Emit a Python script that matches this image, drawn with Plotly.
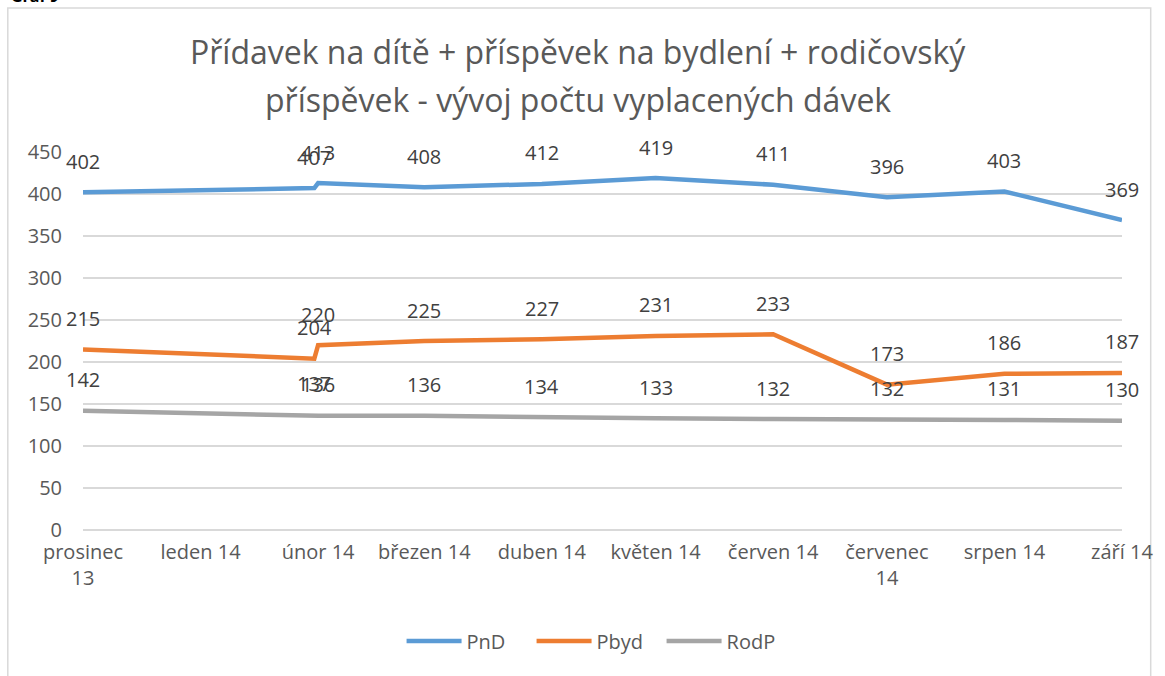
import plotly.graph_objects as go

# ---- data ----
dates = ["2013-12-01", "2014-01-31", "2014-02-01", "2014-03-01", "2014-04-01",
         "2014-05-01", "2014-06-01", "2014-07-01", "2014-08-01", "2014-09-01"]
pnd = [402, 407, 413, 408, 412, 419, 411, 396, 403, 369]
pbyd = [215, 204, 220, 225, 227, 231, 233, 173, 186, 187]
rodp = [142, 137, 136, 136, 134, 133, 132, 132, 131, 130]

tick_dates = ["2013-12-01", "2014-01-01", "2014-02-01", "2014-03-01", "2014-04-01",
              "2014-05-01", "2014-06-01", "2014-07-01", "2014-08-01", "2014-09-01"]
tick_labels = ["prosinec<br>13", "leden 14", "únor 14", "březen 14", "duben 14",
               "květen 14", "červen 14", "červenec<br>14", "srpen 14", "září 14"]

series = [("PnD", pnd, "#5B9BD5"), ("Pbyd", pbyd, "#ED7D31"), ("RodP", rodp, "#A5A5A5")]

title_lines = ["Přídavek na dítě + příspěvek na bydlení + rodičovský",
               "příspěvek - vývoj počtu vyplacených dávek"]

FONT = "Open Sans"
L, R, T, B = 83, 1133, 152, 530
PW, PH = R - L, B - T


def px(xp):
    return (xp - L) / PW


def py(yp):
    return (B - yp) / PH


fig = go.Figure()
annotations = []
for name, vals, color in series:
    fig.add_trace(go.Scatter(x=dates, y=vals, name=name, mode="lines",
                             line=dict(color=color, width=4.5)))
    for d, v in zip(dates, vals):
        annotations.append(dict(x=d, y=v, xref="x", yref="y", text=str(v),
                                showarrow=False, yshift=31,
                                font=dict(family=FONT, size=20, color="#404040")))

for line, yc in zip(title_lines, [52, 100]):
    annotations.append(dict(x=px(583), y=py(yc), xref="paper", yref="paper",
                            xanchor="center", yanchor="middle", text=line, showarrow=False,
                            font=dict(family=FONT, size=32, color="#595959")))

annotations.append(dict(x=px(8), y=py(9), xref="paper", yref="paper",
                        xanchor="left", yanchor="bottom", text="<b>Graf 9</b>", showarrow=False,
                        font=dict(family=FONT, size=16, color="#000000")))

fig.update_layout(
    width=1165, height=676,
    margin=dict(l=L, r=1165 - R, t=T, b=676 - B),
    paper_bgcolor="white", plot_bgcolor="white",
    showlegend=True,
    legend=dict(orientation="h", x=px(602), xanchor="center",
                y=py(641), yanchor="middle", itemwidth=55,
                entrywidth=60, entrywidthmode="pixels",
                font=dict(family=FONT, size=20, color="#595959")),
    annotations=annotations,
    shapes=[dict(type="rect", xref="paper", yref="paper",
                 x0=px(7), x1=px(1162), y0=-0.6, y1=py(8),
                 line=dict(color="#D9D9D9", width=1.5), fillcolor="rgba(0,0,0,0)", layer="below")],
)

fig.update_xaxes(type="date", range=["2013-12-01", "2014-09-01"], showgrid=False,
                 tickvals=tick_dates, ticktext=tick_labels, ticks="", showline=False,
                 zeroline=False, ticklabelstandoff=8,
                 tickfont=dict(family=FONT, size=20, color="#595959"))
fig.update_yaxes(range=[0, 450], dtick=50, showgrid=True, gridcolor="#D9D9D9", gridwidth=1.5,
                 zeroline=True, zerolinecolor="#D9D9D9", zerolinewidth=1.5, showline=False,
                 ticks="", ticklabelstandoff=20,
                 tickfont=dict(family=FONT, size=20, color="#595959"))

fig.write_html("out.html", config={"displayModeBar": False},
               post_script="document.body.style.margin='0';document.body.style.overflow='hidden';")
